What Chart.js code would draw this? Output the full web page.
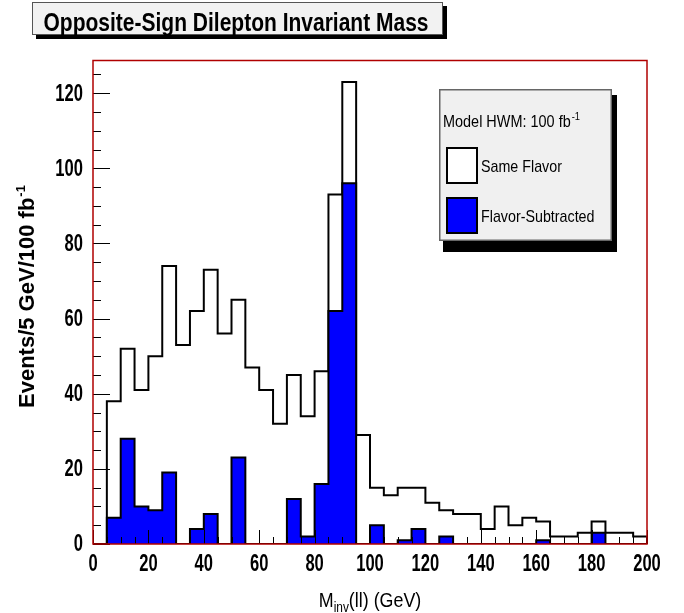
<!DOCTYPE html>
<html>
<head>
<meta charset="utf-8">
<script src="https://cdn.jsdelivr.net/npm/chart.js@4.4.0/dist/chart.umd.min.js"></script>
<style>
  html, body { margin: 0; padding: 0; background: #ffffff; }
  #wrap { width: 684px; height: 613px; position: relative; }
</style>
</head>
<body>
<div id="wrap"><canvas id="c" width="684" height="613"></canvas></div>
<script>
// Histogram bins: low edge of each 5 GeV bin (GeV)
const binLowEdges = [0, 5, 10, 15, 20, 25, 30, 35, 40, 45, 50, 55, 60, 65, 70, 75, 80, 85, 90, 95,
                     100, 105, 110, 115, 120, 125, 130, 135, 140, 145, 150, 155, 160, 165, 170, 175, 180, 185, 190, 195];
const binWidth = 5;

// Same-flavor opposite-sign dilepton events per bin
const sameFlavor = [0, 38, 52, 41, 50, 74, 53, 62, 73, 56, 65, 47, 41, 32, 45, 34, 46, 93, 123, 29,
                    15, 13, 15, 15, 11, 9, 8, 8, 4, 10, 5, 7, 6, 2, 2, 3, 6, 3, 3, 2];

// Flavor-subtracted (SF - OF) events per bin
const flavorSubtracted = [0, 7, 28, 10, 9, 19, 0, 4, 8, 0, 23, 0, 0, 0, 12, 2, 16, 62, 96, 0,
                          5, 0, 1, 4, 0, 2, 0, 0, 0, 0, 0, 0, 1, 0, 0, 0, 3, 0, 0, 0];

// Axis ranges and tick spacing
const xRange = [0, 200];
const yRange = [0, 128.7];
const xMajor = 20, xMinor = 5;
const yMajor = 20, yMinor = 5;

const titleText = 'Opposite-Sign Dilepton Invariant Mass';
const legendHeader = 'Model HWM: 100 fb';
const legendLabels = ['Same Flavor', 'Flavor-Subtracted'];

const FONT = '"Liberation Sans", Arial, Helvetica, sans-serif';

// Turn bin contents into a closed step outline
function stepPoints(values) {
  const pts = values.map((v, i) => ({ x: binLowEdges[i], y: v }));
  const lastEdge = binLowEdges[binLowEdges.length - 1] + binWidth;
  pts.push({ x: lastEdge, y: values[values.length - 1] });
  pts.push({ x: lastEdge, y: 0 });
  return pts;
}

// Horizontally condensed text (Helvetica-narrow look)
function condensed(ctx, text, x, y, font, sx) {
  ctx.save();
  ctx.translate(x, y);
  ctx.scale(sx, 1);
  ctx.font = font;
  ctx.fillText(text, 0, 0);
  const w = ctx.measureText(text).width * sx;
  ctx.restore();
  return w;
}

const decor = {
  id: 'decor',
  afterDatasetsDraw(chart) {
    const { ctx, chartArea: a, scales } = chart;
    const xs = scales.x, ys = scales.y;
    ctx.save();
    ctx.strokeStyle = '#000';
    ctx.lineWidth = 1;
    ctx.beginPath();
    for (let v = yRange[0]; v <= yRange[1]; v += yMinor) {
      const py = Math.round(ys.getPixelForValue(v)) + 0.5;
      const len = v % yMajor === 0 ? 17 : 8;
      ctx.moveTo(a.left, py);
      ctx.lineTo(a.left + len, py);
    }
    for (let v = xRange[0]; v <= xRange[1]; v += xMinor) {
      const px = Math.round(xs.getPixelForValue(v)) + 0.5;
      const len = v % xMajor === 0 ? 14 : 7;
      ctx.moveTo(px, a.bottom);
      ctx.lineTo(px, a.bottom - len);
    }
    ctx.stroke();
    // frame
    ctx.strokeStyle = '#b00000';
    ctx.lineWidth = 1.5;
    ctx.strokeRect(a.left, a.top, a.right - a.left, a.bottom - a.top);

    // tick labels, condensed bold
    ctx.fillStyle = '#000';
    const tickFont = 'bold 23px ' + FONT;
    ctx.textBaseline = 'middle';
    ctx.textAlign = 'right';
    ys.ticks.forEach(t => {
      condensed(ctx, String(t.value), a.left - 10, ys.getPixelForValue(t.value) + 1, tickFont, 0.72);
    });
    ctx.textAlign = 'center';
    ctx.textBaseline = 'top';
    xs.ticks.forEach(t => {
      condensed(ctx, String(t.value), xs.getPixelForValue(t.value), a.bottom + 9, tickFont, 0.72);
    });
    ctx.restore();
  },
  afterDraw(chart) {
    const { ctx, chartArea: a } = chart;
    ctx.save();

    // title box with drop shadow
    ctx.fillStyle = '#000';
    ctx.fillRect(36, 6, 411, 33);
    ctx.fillStyle = '#f2f2f2';
    ctx.fillRect(32, 2, 411, 33);
    ctx.strokeStyle = '#555';
    ctx.lineWidth = 1;
    ctx.strokeRect(32.5, 2.5, 410, 32);
    ctx.fillStyle = '#000';
    ctx.textAlign = 'center';
    ctx.textBaseline = 'alphabetic';
    condensed(ctx, titleText, 236, 31, 'bold 25px ' + FONT, 0.84);

    // legend box with drop shadow
    const L = 439, T = 89, W = 173, H = 152;
    ctx.fillStyle = '#000';
    ctx.fillRect(L + 4, T + 6, W + 1, H + 5);
    ctx.fillStyle = '#f0f0f0';
    ctx.fillRect(L, T, W, H);
    ctx.strokeStyle = '#666';
    ctx.lineWidth = 1.5;
    ctx.strokeRect(L + 0.75, T + 0.75, W - 1.5, H - 1.5);

    ctx.fillStyle = '#000';
    ctx.textAlign = 'left';
    ctx.textBaseline = 'alphabetic';
    const hw = condensed(ctx, legendHeader, 443, 127, '17px ' + FONT, 0.85);
    condensed(ctx, '-1', 443 + hw + 1, 120, '11px ' + FONT, 0.85);

    // swatches
    const sw = [{ fill: '#ffffff', y: 148 }, { fill: '#0000ff', y: 198 }];
    sw.forEach((s, i) => {
      ctx.fillStyle = s.fill;
      ctx.fillRect(447, s.y, 30, 35);
      ctx.strokeStyle = '#000';
      ctx.lineWidth = 2;
      ctx.strokeRect(447, s.y, 30, 35);
      ctx.fillStyle = '#000';
      ctx.textBaseline = 'middle';
      condensed(ctx, legendLabels[i], 481, s.y + 19, '17px ' + FONT, 0.84);
    });

    // y axis title, rotated
    ctx.save();
    ctx.translate(34, 408);
    ctx.rotate(-Math.PI / 2);
    ctx.textBaseline = 'alphabetic';
    ctx.textAlign = 'left';
    ctx.fillStyle = '#000';
    ctx.font = 'bold 22px ' + FONT;
    ctx.fillText('Events/5 GeV/100 fb', 0, 0);
    const yw = ctx.measureText('Events/5 GeV/100 fb').width;
    ctx.font = 'bold 13px ' + FONT;
    ctx.fillText('-1', yw + 1, -9);
    ctx.restore();

    // x axis title with subscript
    ctx.textBaseline = 'alphabetic';
    ctx.textAlign = 'left';
    const sx = 0.85;
    const main = '21px ' + FONT, sub = '14px ' + FONT;
    ctx.font = main; const wM = ctx.measureText('M').width * sx;
    ctx.font = sub; const wS = ctx.measureText('inv').width * sx;
    ctx.font = main; const wR = ctx.measureText('(ll) (GeV)').width * sx;
    const x0 = (a.left + a.right) / 2 - (wM + wS + wR) / 2;
    const by = 607;
    condensed(ctx, 'M', x0, by, main, sx);
    condensed(ctx, 'inv', x0 + wM, by + 5, sub, sx);
    condensed(ctx, '(ll) (GeV)', x0 + wM + wS, by, main, sx);

    ctx.restore();
  }
};

new Chart(document.getElementById('c'), {
  type: 'line',
  data: {
    datasets: [
      {
        label: legendLabels[1],
        data: stepPoints(flavorSubtracted),
        stepped: 'before',
        fill: 'origin',
        backgroundColor: '#0000ff',
        borderColor: '#000000',
        borderWidth: 2,
        pointRadius: 0,
        borderJoinStyle: 'miter'
      },
      {
        label: legendLabels[0],
        data: stepPoints(sameFlavor),
        stepped: 'before',
        fill: 'origin',
        backgroundColor: '#ffffff',
        borderColor: '#000000',
        borderWidth: 2,
        pointRadius: 0,
        borderJoinStyle: 'miter'
      }
    ]
  },
  options: {
    responsive: false,
    animation: false,
    devicePixelRatio: 1,
    layout: { padding: { top: 60.5, right: 37, left: 0, bottom: 0 } },
    plugins: { legend: { display: false }, tooltip: { enabled: false }, title: { display: false } },
    scales: {
      x: {
        type: 'linear',
        min: xRange[0], max: xRange[1],
        grid: { display: false, drawTicks: false },
        border: { display: false },
        ticks: { display: false, stepSize: xMajor, includeBounds: false },
        afterFit(s) { s.height = 69; }
      },
      y: {
        type: 'linear',
        min: yRange[0], max: yRange[1],
        grid: { display: false, drawTicks: false },
        border: { display: false },
        ticks: { display: false, stepSize: yMajor, includeBounds: false },
        afterFit(s) { s.width = 93; }
      }
    }
  },
  plugins: [decor]
});
</script>
</body>
</html>
